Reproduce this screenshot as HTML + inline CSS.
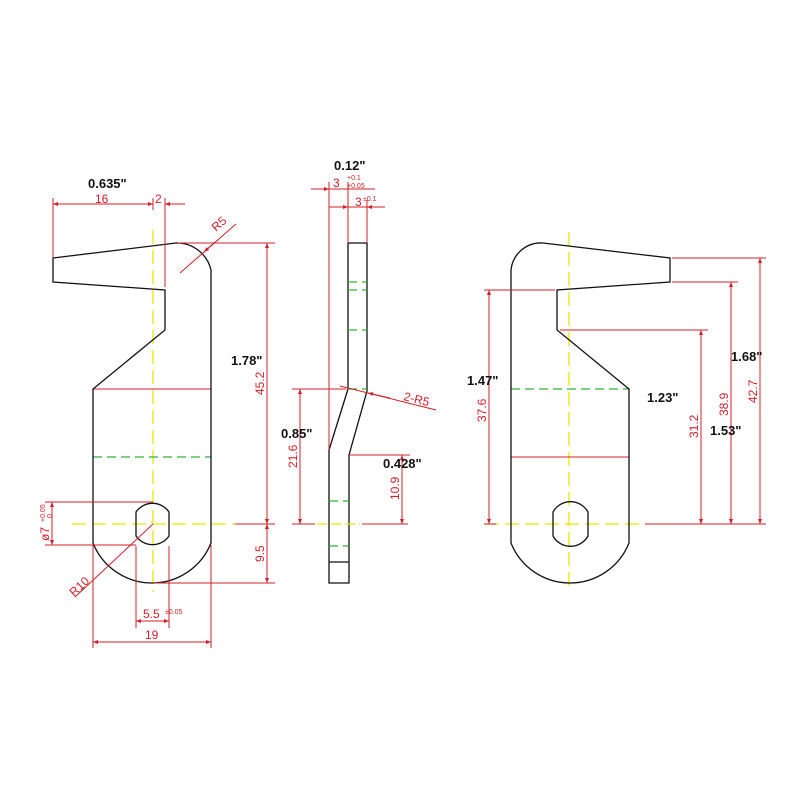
<!DOCTYPE html>
<html><head><meta charset="utf-8"><style>
html,body{margin:0;padding:0;background:#fff;}
svg{display:block;}
.k{stroke:#111;stroke-width:1.3;fill:none;}
.r{stroke:#d0202a;stroke-width:1;fill:none;}
.y{stroke:#e8e800;stroke-width:1.3;stroke-dasharray:14 6;fill:none;}
.g{stroke:#2fb82f;stroke-width:1.3;stroke-dasharray:9 5;fill:none;}
.t{font-family:"Liberation Sans",sans-serif;fill:#d0202a;font-size:12px;}
.s{font-family:"Liberation Sans",sans-serif;fill:#d0202a;font-size:7px;}
.b{font-family:"Liberation Sans",sans-serif;fill:#111;font-size:13px;font-weight:bold;}
</style></head><body>
<svg width="800" height="800" viewBox="0 0 800 800" xmlns="http://www.w3.org/2000/svg">
<defs>
<marker id="a" viewBox="0 0 10 10" refX="10" refY="5" markerWidth="7" markerHeight="5" orient="auto-start-reverse"><path d="M0,1 L10,5 L0,9z" fill="#d0202a"/></marker>
</defs>
<rect width="800" height="800" fill="#fff"/>

<!-- ===== LEFT VIEW ===== -->
<line class="y" x1="153" y1="230" x2="153" y2="592"/>
<line class="y" x1="72" y1="524" x2="235" y2="524"/>
<line class="g" x1="93" y1="457" x2="211" y2="457"/>
<line class="r" x1="93" y1="389" x2="211" y2="389"/>
<path class="k" d="M53,258 L176,243 A35,35 0 0 1 211,270 L211,543 A63.5,63.5 0 0 1 93,543 L93,389 L165,330 L165,290 L53,282 Z"/>
<path class="k" d="M136,512 A20,20 0 0 1 169,512 L169,536 A20,20 0 0 1 136,536 Z"/>
<line class="r" x1="53" y1="198" x2="53" y2="258"/>
<line class="r" x1="153" y1="198" x2="153" y2="210"/>
<line class="r" x1="165" y1="198" x2="165" y2="287"/>
<line class="r" x1="53" y1="204" x2="153" y2="204" marker-start="url(#a)" marker-end="url(#a)"/>
<line class="r" x1="165" y1="204" x2="185" y2="204" marker-start="url(#a)"/>
<text class="t" x="95" y="203">16</text>
<text class="t" x="155" y="203">2</text>
<text class="b" x="88" y="188">0.635"</text>
<line class="r" x1="180" y1="273" x2="236" y2="224"/>
<line class="r" x1="215" y1="242" x2="204" y2="252" marker-end="url(#a)"/>
<text class="t" x="216" y="232" transform="rotate(-42 216 232)">R5</text>
<line class="r" x1="178" y1="243" x2="275" y2="243"/>
<line class="r" x1="235" y1="524" x2="275" y2="524"/>
<line class="r" x1="153" y1="583" x2="275" y2="583"/>
<line class="r" x1="267" y1="243" x2="267" y2="524" marker-start="url(#a)" marker-end="url(#a)"/>
<line class="r" x1="267" y1="524" x2="267" y2="583" marker-start="url(#a)" marker-end="url(#a)"/>
<text class="t" x="0" y="0" transform="translate(264,395) rotate(-90)">45.2</text>
<text class="t" x="0" y="0" transform="translate(264,562) rotate(-90)">9.5</text>
<text class="b" x="231" y="365">1.78"</text>
<line class="r" x1="45" y1="502" x2="153" y2="502"/>
<line class="r" x1="45" y1="545" x2="136" y2="545"/>
<line class="r" x1="52" y1="502" x2="52" y2="545" marker-start="url(#a)" marker-end="url(#a)"/>
<text class="t" x="0" y="0" transform="translate(49,541) rotate(-90)">ø7</text>
<text class="s" x="0" y="0" transform="translate(45,522) rotate(-90)">+0.05</text>
<text class="s" x="0" y="0" transform="translate(52,518) rotate(-90)">0</text>
<line class="r" x1="153" y1="524" x2="75" y2="597"/>
<text class="t" x="0" y="0" transform="translate(74,597) rotate(-43)">R10</text>
<line class="r" x1="136" y1="546" x2="136" y2="628"/>
<line class="r" x1="169" y1="546" x2="169" y2="628"/>
<line class="r" x1="136" y1="621" x2="169" y2="621" marker-start="url(#a)" marker-end="url(#a)"/>
<text class="t" x="143" y="618">5.5</text>
<text class="s" x="165" y="614">±0.05</text>
<line class="r" x1="93" y1="545" x2="93" y2="648"/>
<line class="r" x1="211" y1="545" x2="211" y2="648"/>
<line class="r" x1="93" y1="642" x2="211" y2="642" marker-start="url(#a)" marker-end="url(#a)"/>
<text class="t" x="145" y="639">19</text>

<!-- ===== MIDDLE VIEW ===== -->
<path class="k" d="M348,243 L367,243 L367,391 L349,455 L349,583 L329,583 L329,450 L348,389 Z"/>
<line class="k" x1="329" y1="562" x2="349" y2="562"/>
<line class="g" x1="348" y1="282" x2="367" y2="282"/>
<line class="g" x1="348" y1="290" x2="367" y2="290"/>
<line class="g" x1="348" y1="330" x2="367" y2="330"/>
<line class="g" x1="348" y1="389" x2="367" y2="389"/>
<line class="g" x1="329" y1="501" x2="349" y2="501"/>
<line class="g" x1="329" y1="546" x2="349" y2="546"/>
<line class="r" x1="329" y1="182" x2="329" y2="450"/>
<line class="r" x1="348" y1="182" x2="348" y2="243"/>
<line class="r" x1="367" y1="200" x2="367" y2="243"/>
<line class="r" x1="311" y1="189" x2="329" y2="189" marker-end="url(#a)"/>
<line class="r" x1="329" y1="189" x2="375" y2="189"/>
<line class="r" x1="329" y1="207" x2="348" y2="207" marker-end="url(#a)"/>
<line class="r" x1="348" y1="207" x2="367" y2="207"/>
<line class="r" x1="385" y1="207" x2="367" y2="207" marker-end="url(#a)"/>
<text class="t" x="333" y="187">3</text>
<text class="s" x="347" y="180">+0.1</text>
<text class="s" x="347" y="188">+0.05</text>
<text class="t" x="355" y="206">3</text>
<text class="s" x="363" y="201">±0.1</text>
<text class="b" x="334" y="170">0.12"</text>
<line class="r" x1="340" y1="386" x2="436" y2="410"/>
<line class="r" x1="390" y1="398" x2="368" y2="393" marker-end="url(#a)"/>
<text class="t" x="0" y="0" transform="translate(403,400) rotate(14)">2-R5</text>
<line class="r" x1="292" y1="389" x2="346" y2="389"/>
<line class="r" x1="300" y1="389" x2="300" y2="524" marker-start="url(#a)" marker-end="url(#a)"/>
<line class="r" x1="292" y1="524" x2="315" y2="524"/>
<line class="y" x1="317" y1="524" x2="360" y2="524" style="stroke-dasharray:10 4"/>
<line class="r" x1="362" y1="524" x2="408" y2="524"/>
<text class="t" x="0" y="0" transform="translate(297,468) rotate(-90)">21.6</text>
<line class="r" x1="349" y1="455" x2="410" y2="455"/>
<line class="r" x1="402" y1="455" x2="402" y2="524" marker-start="url(#a)" marker-end="url(#a)"/>
<text class="t" x="0" y="0" transform="translate(399,500) rotate(-90)">10.9</text>
<text class="b" x="281" y="438">0.85"</text>
<text class="b" x="383" y="468">0.428"</text>

<!-- ===== RIGHT VIEW ===== -->
<line class="y" x1="569" y1="232" x2="569" y2="592"/>
<line class="y" x1="485" y1="524" x2="645" y2="524"/>
<line class="g" x1="511" y1="389" x2="629" y2="389"/>
<line class="r" x1="511" y1="457" x2="629" y2="457"/>
<path class="k" d="M511,543 L511,270 A30,30 0 0 1 543,243 L670,258 L670,282 L557,290 L557,330 L629,389 L629,543 A63.5,63.5 0 0 1 511,543 Z"/>
<path class="k" d="M553,512 A20,20 0 0 1 588,512 L588,536 A20,20 0 0 1 553,536 Z"/>
<line class="r" x1="484" y1="290" x2="555" y2="290"/>
<line class="r" x1="484" y1="524" x2="496" y2="524"/>
<line class="r" x1="489" y1="290" x2="489" y2="524" marker-start="url(#a)" marker-end="url(#a)"/>
<text class="t" x="0" y="0" transform="translate(486,422) rotate(-90)">37.6</text>
<text class="b" x="467" y="385">1.47"</text>
<line class="r" x1="560" y1="330" x2="708" y2="330"/>
<line class="r" x1="672" y1="282" x2="738" y2="282"/>
<line class="r" x1="672" y1="258" x2="766" y2="258"/>
<line class="r" x1="645" y1="524" x2="766" y2="524"/>
<line class="r" x1="701" y1="330" x2="701" y2="524" marker-start="url(#a)" marker-end="url(#a)"/>
<line class="r" x1="731" y1="282" x2="731" y2="524" marker-start="url(#a)" marker-end="url(#a)"/>
<line class="r" x1="760" y1="258" x2="760" y2="524" marker-start="url(#a)" marker-end="url(#a)"/>
<text class="t" x="0" y="0" transform="translate(698,438) rotate(-90)">31.2</text>
<text class="t" x="0" y="0" transform="translate(728,416) rotate(-90)">38.9</text>
<text class="t" x="0" y="0" transform="translate(757,403) rotate(-90)">42.7</text>
<text class="b" x="647" y="402">1.23"</text>
<text class="b" x="710" y="435">1.53"</text>
<text class="b" x="731" y="361">1.68"</text>
</svg>
</body></html>
